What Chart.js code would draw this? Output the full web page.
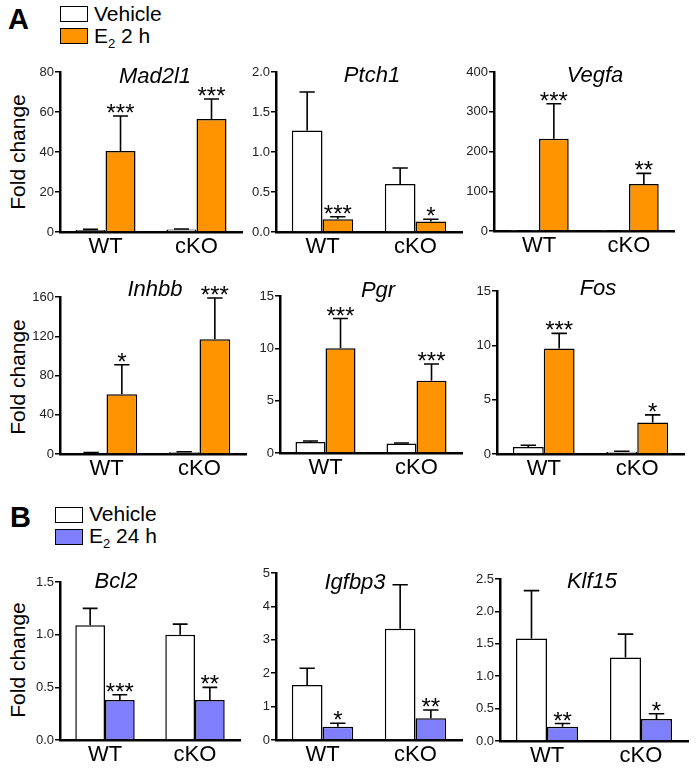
<!DOCTYPE html>
<html>
<head>
<meta charset="utf-8">
<script src="https://cdn.jsdelivr.net/npm/chart.js@4.4.1/dist/chart.umd.min.js"></script>
<style>
  body { margin: 0; background: #fff; font-family: "Liberation Sans", Arial, Helvetica, sans-serif; }
  #page { position: relative; width: 696px; height: 769px; overflow: hidden; }
  canvas { position: absolute; }
  .panel { position: absolute; font-weight: bold; font-size: 29px; color: #000; }
  .box { position: absolute; width: 26px; height: 14px; border: 1.5px solid #000; }
  .leg { position: absolute; font-size: 21px; color: #000; line-height: 22px; }
  .ylab { position: absolute; font-size: 21px; color: #000; white-space: nowrap;
          transform: translate(-50%, -50%) rotate(-90deg); }
</style>
</head>
<body>
<div id="page">
  <div class="panel" style="left:8px;top:3px;">A</div>
  <div class="box" style="left:60px;top:6px;background:#fff;"></div>
  <div class="leg" style="left:94px;top:3px;">Vehicle</div>
  <div class="box" style="left:60px;top:28px;background:#ff9400;"></div>
  <div class="leg" style="left:94px;top:25px;">E<sub style="font-size:13px;">2</sub> 2 h</div>

  <div class="panel" style="left:10px;top:501px;">B</div>
  <div class="box" style="left:55px;top:507px;background:#fff;"></div>
  <div class="leg" style="left:89px;top:503px;">Vehicle</div>
  <div class="box" style="left:55px;top:529px;background:#7f7ffb;"></div>
  <div class="leg" style="left:89px;top:525px;">E<sub style="font-size:13px;">2</sub> 24 h</div>

  <div class="ylab" style="left:18px;top:152px;">Fold change</div>
  <div class="ylab" style="left:18px;top:377px;">Fold change</div>
  <div class="ylab" style="left:18px;top:660px;">Fold change</div>
</div>
<script>
// data
const genes = ["Mad2l1", "Ptch1", "Vegfa", "Inhbb", "Pgr", "Fos", "Bcl2", "Igfbp3", "Klf15"];
const groups = ["WT", "cKO"];
const yMax = [80, 2, 400, 160, 15, 15, 1.5, 5, 2.5];
const yStep = [20, 0.5, 100, 40, 5, 5, 0.5, 1, 0.5];
const tickDecimals = [0, 1, 0, 0, 0, 0, 1, 0, 1];

const vehicleMean = [[1.0, 1.2], [1.27, 0.6], [0.6, 0.6], [1.0, 1.8], [1.05, 0.9], [0.65, 0.2], [1.09, 1.0], [1.65, 3.33], [1.58, 1.29]];
const vehicleSem = [[0.3, 0.3], [0.48, 0.2], [0.2, 0.2], [0.4, 0.5], [0.1, 0.05], [0.15, 0.05], [0.16, 0.1], [0.5, 1.32], [0.74, 0.36]];
const treatedMean = [[40.5, 56.5], [0.16, 0.13], [232, 118], [61, 117], [10.0, 6.9], [9.7, 2.9], [0.38, 0.38], [0.4, 0.65], [0.22, 0.34]];
const treatedSem = [[17.5, 10], [0.03, 0.03], [88, 27], [30, 42], [2.85, 1.6], [1.4, 0.7], [0.05, 0.12], [0.1, 0.25], [0.05, 0.08]];
const treatedStars = [["***", "***"], ["***", "*"], ["***", "**"], ["*", "***"], ["***", "***"], ["***", "*"], ["***", "**"], ["*", "**"], ["**", "*"]];
const treatedLabel = ["E2 2 h", "E2 2 h", "E2 2 h", "E2 2 h", "E2 2 h", "E2 2 h", "E2 24 h", "E2 24 h", "E2 24 h"];
const treatedColor = ["#ff9400", "#ff9400", "#ff9400", "#ff9400", "#ff9400", "#ff9400", "#7f7ffb", "#7f7ffb", "#7f7ffb"];

// layout: plot area [left, right, top, bottom] and title centre, page pixels
const areas = [
  [60, 242, 72, 232], [276, 462, 72, 232], [494, 674, 72, 231],
  [60, 246, 297, 454], [280, 462, 296, 453], [497, 684, 291, 454],
  [60, 240, 582, 740], [276, 462, 573, 740], [500, 688, 579, 741]
];
const titlePos = [
  [155, 77], [372, 76], [595, 76],
  [155, 290], [378, 291], [598, 289],
  [116, 582], [355, 583], [592, 582]
];

const FONT = "'Liberation Sans', Arial, Helvetica, sans-serif";
const W_Y = 46, PAD_TOP = 28, PAD_RIGHT = 6, H_X = 32;

// error bars (upward only) + significance stars
const errorBars = {
  id: "errorBars",
  afterDatasetsDraw(chart) {
    const ctx = chart.ctx;
    const y = chart.scales.y;
    chart.data.datasets.forEach((ds, di) => {
      const meta = chart.getDatasetMeta(di);
      meta.data.forEach((bar, i) => {
        const top = y.getPixelForValue(ds.data[i] + ds.errors[i]);
        const cap = bar.width * 0.5;
        ctx.save();
        ctx.strokeStyle = "#000";
        ctx.lineWidth = 1.6;
        ctx.beginPath();
        ctx.moveTo(bar.x, bar.y);
        ctx.lineTo(bar.x, top);
        ctx.moveTo(bar.x - cap / 2, top);
        ctx.lineTo(bar.x + cap / 2, top);
        ctx.stroke();
        if (ds.stars[i]) {
          ctx.fillStyle = "#000";
          ctx.font = "24px " + FONT;
          ctx.textAlign = "center";
          ctx.textBaseline = "alphabetic";
          const m = ctx.measureText(ds.stars[i]);
          const below = m.actualBoundingBoxDescent || 0;
          ctx.fillText(ds.stars[i], bar.x, top - 3 - below);
        }
        ctx.restore();
      });
    });
  }
};

const geneTitle = {
  id: "geneTitle",
  afterDraw(chart, args, opts) {
    const ctx = chart.ctx;
    ctx.save();
    ctx.fillStyle = "#000";
    ctx.font = "italic 22px " + FONT;
    ctx.textAlign = "center";
    ctx.textBaseline = "middle";
    ctx.fillText(opts.text, opts.x, opts.y);
    ctx.restore();
  }
};

const page = document.getElementById("page");

genes.forEach((gene, i) => {
  const [l, r, t, b] = areas[i];
  const left = l - W_Y, top = t - PAD_TOP;
  const width = r - l + W_Y + PAD_RIGHT;
  const height = b - t + PAD_TOP + H_X;
  const cv = document.createElement("canvas");
  cv.width = width;
  cv.height = height;
  cv.style.left = left + "px";
  cv.style.top = top + "px";
  cv.style.width = width + "px";
  cv.style.height = height + "px";
  page.appendChild(cv);

  new Chart(cv, {
    type: "bar",
    data: {
      labels: groups,
      datasets: [
        {
          label: "Vehicle",
          data: vehicleMean[i],
          errors: vehicleSem[i],
          stars: ["", ""],
          backgroundColor: "#fff",
          borderColor: "#000",
          borderWidth: 1.5,
        },
        {
          label: treatedLabel[i],
          data: treatedMean[i],
          errors: treatedSem[i],
          stars: treatedStars[i],
          backgroundColor: treatedColor[i],
          borderColor: "#000",
          borderWidth: 1.5,
        },
      ],
    },
    options: {
      responsive: false,
      animation: false,
      layout: { padding: { top: PAD_TOP, right: PAD_RIGHT, left: 0, bottom: 0 } },
      datasets: { bar: { categoryPercentage: 0.66, barPercentage: 1 } },
      plugins: {
        legend: { display: false },
        tooltip: { enabled: false },
        geneTitle: { text: gene, x: titlePos[i][0] - left, y: titlePos[i][1] - top },
      },
      scales: {
        x: {
          grid: { display: true, drawOnChartArea: false, drawTicks: false },
          border: { color: "#000", width: 2.5 },
          ticks: { color: "#000", font: { family: FONT, size: 22 }, padding: 2 },
          afterFit(s) { s.height = H_X; },
        },
        y: {
          min: 0,
          max: yMax[i],
          grid: { display: true, drawOnChartArea: false, drawTicks: true, tickLength: 5, color: "#000", lineWidth: 1.5 },
          border: { color: "#000", width: 2.5 },
          ticks: {
            stepSize: yStep[i],
            color: "#222",
            font: { family: FONT, size: 13 },
            padding: 1,
            callback: (v) => Number(v).toFixed(tickDecimals[i]),
          },
          afterFit(s) { s.width = W_Y; },
        },
      },
    },
    plugins: [errorBars, geneTitle],
  });
});
</script>
</body>
</html>
